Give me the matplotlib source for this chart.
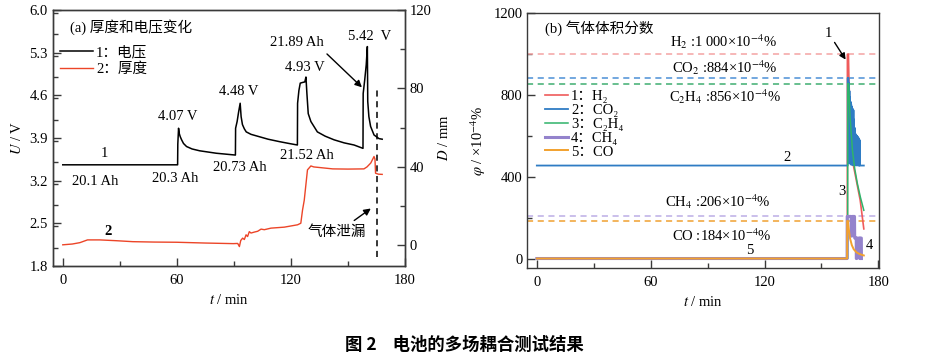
import numpy as np
import matplotlib
matplotlib.use('Agg')
import matplotlib.pyplot as plt
from matplotlib.ticker import MultipleLocator

plt.rcParams['font.family'] = ['Liberation Serif', 'DejaVu Serif', 'Noto Sans CJK SC']
plt.rcParams['mathtext.fontset'] = 'stix'
plt.rcParams['font.size'] = 10.5
plt.rcParams['axes.unicode_minus'] = False

# ---- (a) voltage / thickness ----
t_volt = [0, 60.4, 60.5, 60.9, 61.3, 61.8, 62.5, 63.5, 65.1, 68, 72, 80.7, 90.8,
          90.9, 91.7, 92.5, 93.3, 93.8, 94.5, 95.5, 96.5, 99, 103.5, 108, 114, 119, 123.4,
          123.5, 124.2, 124.9, 126, 127.3, 127.9, 128.4, 129.1, 130.5, 133.9, 138, 142.7, 148, 153.2, 157.9,
          158.0, 158.8, 159.6, 160.2, 160.4, 161.0, 161.9, 163.7, 166.3, 168]
volt = [3.46, 3.46, 3.80, 4.06, 3.97, 3.92, 3.87, 3.81, 3.76, 3.72, 3.69, 3.65, 3.62,
        4.06, 4.17, 4.33, 4.47, 4.25, 4.12, 4.05, 4.00, 3.96, 3.92, 3.88, 3.84, 3.81, 3.785,
        4.47, 4.68, 4.80, 4.81, 4.82, 4.90, 4.63, 4.30, 4.17, 4.00, 3.93, 3.87, 3.82, 3.785, 3.73,
        4.63, 4.85, 5.10, 5.40, 4.50, 4.25, 4.09, 3.95, 3.89, 3.88]

t_thick = [0, 5, 9, 13, 19.4, 28, 36.8, 48, 60, 75, 89.7, 92.0, 92.9, 93.6, 94.6, 95.5,
           96.4, 97.2, 98.1, 99, 100.8, 102.5, 104.3, 106, 109.5, 116.5, 123.5, 125.2,
           126.1, 127, 128.7, 130.5, 132, 135, 142, 150, 158.4, 160, 162, 163.7, 164.2,
           164.5, 166, 168]
thick = [0.3, 0.7, 1.4, 2.8, 2.8, 2.4, 1.9, 1.7, 1.6, 1.2, 0.9, 1.0, -0.6, 2.5, 3.7, 3.0,
         5.4, 4.5, 7.0, 6.3, 6.8, 7.2, 8.3, 8.0, 8.8, 9.3, 10.5, 11.3,
         18, 23, 38.5, 40.5, 40.0, 39.7, 39.0, 38.9, 39.0, 40, 42, 45.3, 44,
         36.8, 36.3, 36.2]

t_leak = 165.4

# ---- (b) gas fractions ----
h2_t = [0, 163.6, 163.65, 164.2, 164.4, 165.0, 165.5, 166.5, 168.0, 170.4, 172.3]
h2 = [0, 0, 1000, 1000, 900, 700, 560, 470, 400, 285, 145]

co2_t = [0, 163.8, 163.85, 164.0, 164.15, 164.3, 164.45, 164.6, 164.75, 164.9, 165.05,
         165.2, 165.35, 165.5, 165.65, 165.8, 165.95, 166.1, 166.25, 166.4, 166.55,
         166.7, 166.85, 167.0, 167.15, 167.3, 167.45, 167.6, 167.75, 167.9, 168.05,
         168.2, 168.35, 168.5, 168.65, 168.8, 168.95, 169.1, 169.25, 169.4, 169.55,
         169.7, 169.85, 170.0, 170.15, 170.3, 172.3]
co2 = [455, 455, 884, 470, 884, 480, 860, 470, 820, 465, 790,
       465, 767, 460, 755, 460, 745, 460, 735, 460, 730,
       458, 726, 458, 680, 458, 640, 458, 612, 456, 608,
       456, 604, 456, 600, 456, 596, 456, 594, 456, 590,
       455, 585, 455, 579, 455, 455]

c2h4_t = [0, 163.8, 163.85, 164.3, 165.0, 166.3, 167.5, 168.9, 170.5, 172.3]
c2h4 = [0, 0, 856, 856, 700, 530, 440, 367, 300, 236]

ch4_t = [0, 163.5, 163.55, 165.6, 165.7, 166.1, 166.2, 167.4, 167.5, 168.3, 168.35,
         168.6, 168.65, 170.1, 170.15, 170.4, 170.45, 171.0, 171.05]
ch4 = [0, 0, 206, 206, 110, 110, 206, 206, 100, 100, 0,
       0, 100, 100, 0, 0, 100, 100, 0]

co_t = [0, 163.5, 163.55, 163.9, 164.3, 165.0, 166.0, 167.0, 168.5, 170.0, 172.3]
co = [0, 0, 184, 184, 150, 100, 65, 45, 30, 22, 15]

gas_max = [1000, 884, 856, 206, 184]
gas_names = ['H₂', 'CO₂', 'C₂H₄', 'CH₄', 'CO']
gas_colors = ['#ef5b5b', '#2f7cc4', '#2fb36a', '#9483cc', '#f2a12e']
dash_colors = ['#f4a3a3', '#4b8fd6', '#3fae70', '#bcaee6', '#f0a030']

fig = plt.figure(figsize=(9.36, 3.58), dpi=100)
ax = fig.add_axes([0.0563, 0.2570, 0.3764, 0.7151])
ax2 = ax.twinx()
bx = fig.add_axes([0.5634, 0.2522, 0.3761, 0.7106])

# panel a
l1, = ax.plot(t_volt, volt, color='black', lw=1.1, label='1：电压')
l2, = ax2.plot(t_thick, thick, color='#ec4528', lw=1.0, label='2：厚度')
ax.plot([t_leak, t_leak], [1.95, 4.72], color='black', lw=1.1, ls=(0, (4, 3)))

ax.set_xlim(-5.3, 180)
ax.set_ylim(1.8, 6.0)
ax2.set_ylim(-10.5, 120)
ax.set_xticks([0, 60, 120, 180])
ax.xaxis.set_minor_locator(MultipleLocator(30))
ax.set_yticks(np.arange(1.8, 6.01, 0.7))
ax.yaxis.set_minor_locator(MultipleLocator(0.35))
ax.yaxis.set_major_formatter(matplotlib.ticker.FormatStrFormatter('%.1f'))
ax2.set_yticks([0, 40, 80, 120])
ax2.yaxis.set_minor_locator(MultipleLocator(20))
ax.set_xlabel('$t$ / min')
ax.set_ylabel('$U$ / V')
ax2.set_ylabel('$D$ / mm')

ax.text(3.8, 5.72, '(a) 厚度和电压变化', ha='left', va='center')
ax.text(60.7, 4.245, '4.07 V', ha='center', va='center')
ax.text(92.7, 4.655, '4.48 V', ha='center', va='center')
ax.text(127.4, 5.05, '4.93 V', ha='center', va='center')
ax.text(123.2, 5.46, '21.89 Ah', ha='center', va='center')
ax.text(161.6, 5.56, '5.42  V', ha='center', va='center')
ax.annotate('', xy=(158.4, 4.70), xytext=(137.9, 5.31),
            arrowprops=dict(arrowstyle='-|>', color='black', lw=1.0, mutation_scale=10))
ax.text(21.7, 3.64, '1', ha='center', va='center')
ax.text(17, 3.19, '20.1 Ah', ha='center', va='center')
ax.text(59, 3.23, '20.3 Ah', ha='center', va='center')
ax.text(93.2, 3.42, '20.73 Ah', ha='center', va='center')
ax.text(128.5, 3.62, '21.52 Ah', ha='center', va='center')
ax.text(23.9, 2.36, '2', ha='center', va='center', fontweight='bold')
ax.text(144.2, 2.36, '气体泄漏', ha='center', va='center')
ax.annotate('', xy=(163.2, 2.77), xytext=(152.1, 2.52),
            arrowprops=dict(arrowstyle='-|>', color='black', lw=1.0, mutation_scale=10))

ax.legend(handles=[l1, l2], loc='upper left', bbox_to_anchor=(0.02, 0.86),
          frameon=False, handlelength=2.3, handletextpad=0.2, labelspacing=0.2,
          borderaxespad=0, borderpad=0)

# panel b
series = [(h2_t, h2), (co2_t, co2), (c2h4_t, c2h4), (ch4_t, ch4), (co_t, co)]
widths = [1.2, 1.3, 1.1, 2.2, 1.4]
handles = []
for i, (tt, yy) in enumerate(series):
    bx.axhline(gas_max[i], color=dash_colors[i], lw=1.1, ls=(0, (4, 3)))
for i, (tt, yy) in enumerate(series):
    h, = bx.plot(tt, yy, color=gas_colors[i], lw=widths[i],
                 label=f'{i + 1}：{gas_names[i]}')
    handles.append(h)

bx.set_xlim(-5, 180.5)
bx.set_ylim(-45, 1200)
bx.set_xticks([0, 60, 120, 180])
bx.xaxis.set_minor_locator(MultipleLocator(30))
bx.set_yticks([0, 400, 800, 1200])
bx.yaxis.set_minor_locator(MultipleLocator(200))
bx.set_xlabel('$t$ / min')
bx.set_ylabel(r'$\varphi$ / ×10$^{-4}$%')

bx.text(4.4, 1128, '(b) 气体体积分数', ha='left', va='center')
bx.text(98.2, 1061, 'H$_2$ :1 000×10$^{-4}$%', ha='center', va='center')
bx.text(99.2, 932, 'CO$_2$ :884×10$^{-4}$%', ha='center', va='center')
bx.text(99.2, 791, 'C$_2$H$_4$ :856×10$^{-4}$%', ha='center', va='center')
bx.text(95.5, 277, 'CH$_4$ :206×10$^{-4}$%', ha='center', va='center')
bx.text(97.6, 114, 'CO :184×10$^{-4}$%', ha='center', va='center')
bx.text(131.7, 495, '2', ha='center', va='center')
bx.text(112.4, 37, '5', ha='center', va='center')
bx.text(160.7, 326, '3', ha='center', va='center')
bx.text(175.3, 62, '4', ha='center', va='center')
bx.text(153.7, 1102, '1', ha='center', va='center')
bx.annotate('', xy=(163.5, 962), xytext=(156.1, 1069),
            arrowprops=dict(arrowstyle='-|>', color='black', lw=1.0, mutation_scale=9))

bx.legend(handles=handles, loc='upper left', bbox_to_anchor=(0.05, 0.70),
          frameon=False, handlelength=1.6, handletextpad=0.2, labelspacing=0.05,
          borderaxespad=0, borderpad=0)

for a in (ax, ax2, bx):
    for s in a.spines.values():
        s.set_color('#3a3a3a')
        s.set_linewidth(1.0)
    a.tick_params(which='both', direction='in', colors='#3a3a3a', labelcolor='black')
    a.tick_params(which='major', length=5.5, width=1.0)
    a.tick_params(which='minor', length=3.5, width=1.0)
ax.tick_params(axis='y', which='both', right=False)
ax.tick_params(axis='x', which='major', pad=6)
bx.tick_params(axis='x', which='major', pad=6)

fig.text(0.496, 0.036, '图 2    电池的多场耦合测试结果', ha='center', va='center',
         fontsize=12.5, fontweight='bold', family=['Noto Sans CJK SC'])

fig.savefig('out.png', dpi=100)
